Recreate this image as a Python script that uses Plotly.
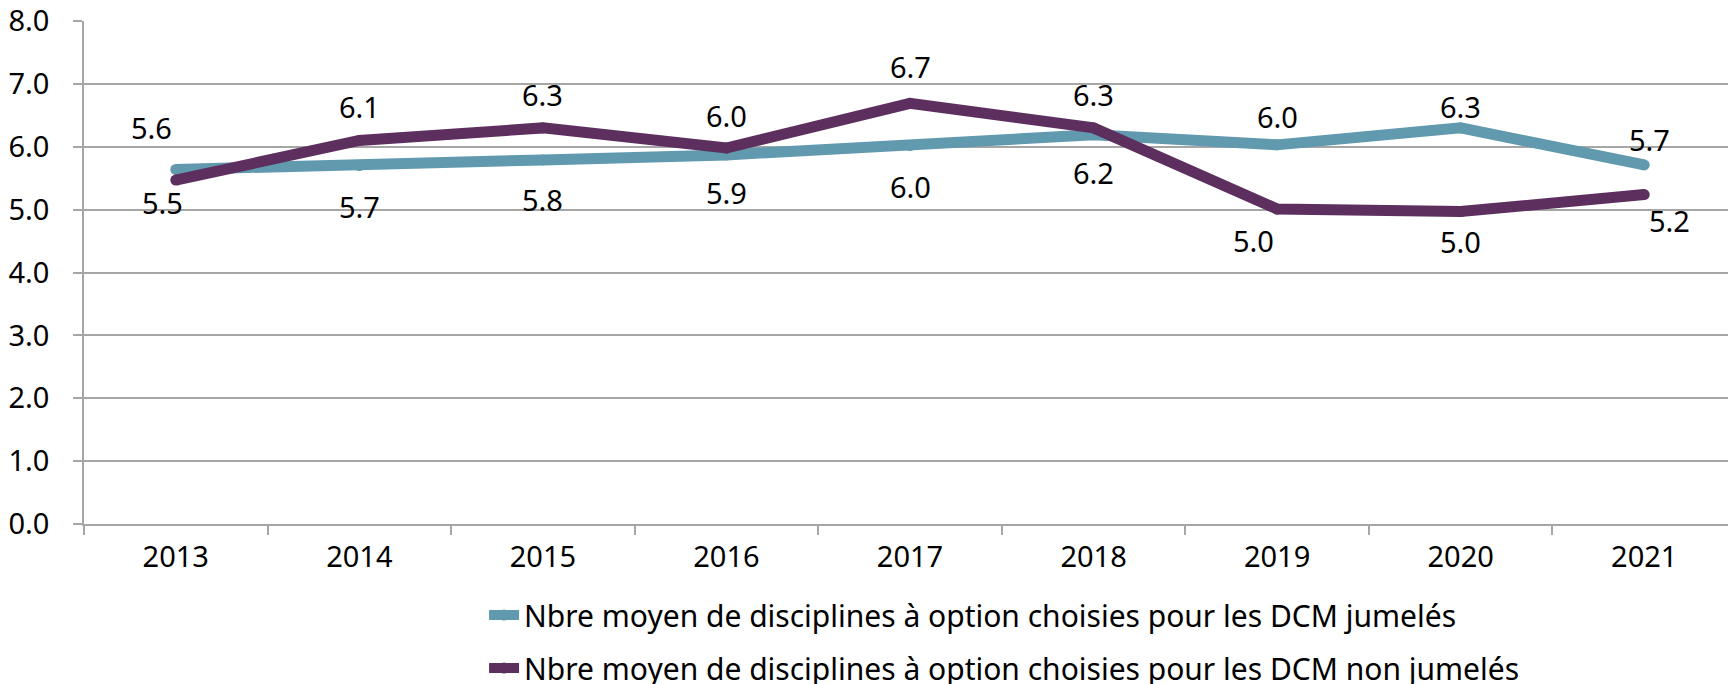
import plotly.graph_objects as go

years = [2013, 2014, 2015, 2016, 2017, 2018, 2019, 2020, 2021]
jumeles = [5.64, 5.70, 5.79, 5.87, 6.02, 6.19, 6.03, 6.30, 5.71]
non_jumeles = [5.47, 6.10, 6.30, 5.98, 6.69, 6.30, 5.01, 4.97, 5.24]
name_j = "Nbre moyen de disciplines à option choisies pour les DCM jumelés"
name_n = "Nbre moyen de disciplines à option choisies pour les DCM non jumelés"

# label offsets (dx, dy in px, dy positive = up)
off_j = [(-24, 42), (0, -41), (0, -40), (0, -38), (0, -41), (0, -38), (0, 28), (0, 21), (5, 25)]
off_n = [(-13, -22), (0, 34), (0, 33), (0, 33), (0, 37), (0, 33), (-24, -31), (0, -30), (25, -26)]

teal = "#6199AE"
purple = "#5C2F5E"

fig = go.Figure()
fig.add_trace(go.Scatter(x=years, y=jumeles, name=name_j, mode="lines+markers",
                         legendgroup="j",
                         line=dict(color=teal, width=11),
                         marker=dict(size=11, color=teal)))
fig.add_trace(go.Scatter(x=years, y=non_jumeles, name=name_n, mode="lines+markers",
                         legendgroup="n",
                         line=dict(color=purple, width=11),
                         marker=dict(size=11, color=purple)))

anns = []
for vals, offs in ((jumeles, off_j), (non_jumeles, off_n)):
    for x, v, (dx, dy) in zip(years, vals, offs):
        anns.append(dict(x=x, y=v, xref="x", yref="y", text=f"{v:.1f}", showarrow=False,
                         xshift=dx, yshift=dy,
                         font=dict(family="Noto Sans", size=29, color="black")))

boundaries = [y - 0.5 for y in years] + [years[-1] + 0.5]

fig.update_layout(
    width=1728, height=676,
    margin=dict(l=76, r=0, t=13, b=160, autoexpand=False),
    paper_bgcolor="white", plot_bgcolor="white",
    font=dict(family="Noto Sans", size=29, color="black"),
    annotations=anns,
    showlegend=True,
    legend=dict(xref="container", yref="container", x=0.2755, y=0.1405,
                xanchor="left", yanchor="top",
                font=dict(family="Noto Sans", size=30, color="black"),
                traceorder="grouped", tracegroupgap=11,
                itemwidth=30, bgcolor="rgba(0,0,0,0)"),
)
fig.update_xaxes(range=[2012.5, 2021.5], tickmode="array", tickvals=years,
                 ticktext=[str(y) for y in years], tickangle=0, automargin=False,
                 ticks="", showline=True, linecolor="#A6A6A6",
                 linewidth=1.5, showgrid=False, zeroline=False, ticklabelstandoff=6,
                 ticklabeloverflow="allow",
                 minor=dict(tickmode="array", tickvals=boundaries, ticks="outside",
                            ticklen=9, tickcolor="#A6A6A6", tickwidth=1.5, showgrid=False),
                 tickfont=dict(family="Noto Sans", size=29))
fig.update_yaxes(range=[0, 8], dtick=1, tickformat=".1f", ticks="outside", ticklen=9,
                 tickcolor="#A6A6A6", tickwidth=1.5, showline=True, linecolor="#A6A6A6",
                 linewidth=1.5, showgrid=True, gridcolor="#A6A6A6", gridwidth=1.5,
                 zeroline=False, ticklabelstandoff=18, automargin=False,
                 ticklabeloverflow="allow",
                 tickfont=dict(family="Noto Sans", size=29))

fig.write_html("out.html")
